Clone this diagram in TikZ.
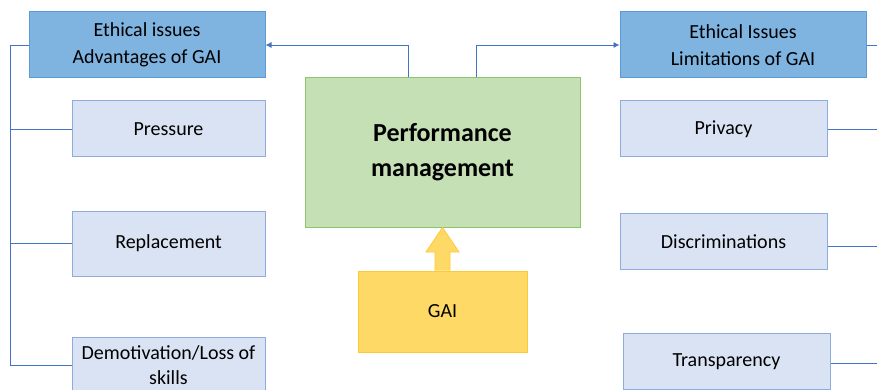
\documentclass[tikz,border=0pt]{standalone}
\usepackage{fontspec}
\setmainfont{Carlito}
\usetikzlibrary{arrows.meta}

\definecolor{hdrfill}{HTML}{7FB3E0}
\definecolor{hdrline}{HTML}{5B9BD5}
\definecolor{itemfill}{HTML}{DAE3F3}
\definecolor{itemline}{HTML}{8FAADC}
\definecolor{linkline}{HTML}{4472C4}
\definecolor{pmfill}{HTML}{C5E0B4}
\definecolor{pmline}{HTML}{8CC66A}
\definecolor{gaifill}{HTML}{FFD966}
\definecolor{gailine}{HTML}{FFC936}

\tikzset{
  header/.style={draw=hdrline,fill=hdrfill,line width=1pt,align=center,
    font=\fontsize{20}{27}\selectfont,inner sep=0pt},
  item/.style={draw=itemline,fill=itemfill,line width=1pt,align=center,
    font=\fontsize{20}{25}\selectfont,inner sep=0pt},
  link/.style={draw=linkline,line width=0.75pt}
}

\begin{document}
\begin{tikzpicture}[x=1pt,y=-1pt]
        \useasboundingbox (0,0) rectangle (877,390);
        \coordinate (railL) at (10,45);
        \coordinate (edgeR) at (877,45);

        % left column
        \node[header,minimum width=236pt,minimum height=66pt] (hdrL) at (147,45) {Ethical issues\\Advantages of GAI};
        \node[item,minimum width=193pt,minimum height=56pt] (pres) at (168.5,129) {Pressure};
        \node[item,minimum width=193pt,minimum height=65pt] (repl) at (168.5,243.5) {Replacement};
        \node[item,minimum width=193pt,minimum height=56pt] (demo) at (168.5,365) {Demotivation/Loss of\\skills};

        % right column
        \node[header,minimum width=246pt,minimum height=66pt] (hdrR) at (743,45) {Ethical Issues\\Limitations of GAI};
        \node[item,minimum width=207pt,minimum height=56pt] (priv) at (723.5,129) {Privacy};
        \node[item,minimum width=207pt,minimum height=56pt] (disc) at (723.5,241.5) {Discriminations};
        \node[item,minimum width=207pt,minimum height=56pt] (tran) at (726.5,361.5) {Transparency};

        % centre
        \node[draw=pmline,fill=pmfill,line width=1pt,minimum width=275pt,minimum height=149pt,
              align=center,inner sep=0pt,font=\fontsize{26}{35}\selectfont\bfseries] (pm) at (442.5,152.5) {Performance\\management};
        \node[draw=gailine,fill=gaifill,line width=1pt,minimum width=169pt,minimum height=81pt,
              inner sep=0pt,font=\fontsize{20}{25}\selectfont] (gai) at (442.5,311.5) {GAI};
        \draw[draw=gailine,fill=gaifill,line width=0.8pt]
            (gai.north -| 435,0) -- (435,252) -- (426,252) -- (pm.south -| 442.5,0)
            -- (459,252) -- (450,252) -- (gai.north -| 450,0);

        % links
        \draw[link,-{Latex[length=6pt,width=6pt]}] (pm.north -| 408,0) |- (hdrL.east);
        \draw[link,-{Latex[length=6pt,width=6pt]}] (pm.north -| 476,0) |- (hdrR.west);
        \draw[link] (hdrL.west) -- (railL) |- (demo.west);
        \draw[link] (pres.west) -- (pres.west -| railL);
        \draw[link] (repl.west) -- (repl.west -| railL);
        \draw[link] (hdrR.east) -- (edgeR);
        \draw[link] (priv.east) -- (priv.east -| edgeR);
        \draw[link] ([yshift=-4.5pt]disc.east) -- ([yshift=-4.5pt]disc.east -| edgeR);
        \draw[link] ([yshift=-1.5pt]tran.east) -- ([yshift=-1.5pt]tran.east -| edgeR);
    \end{tikzpicture}
\end{document}
